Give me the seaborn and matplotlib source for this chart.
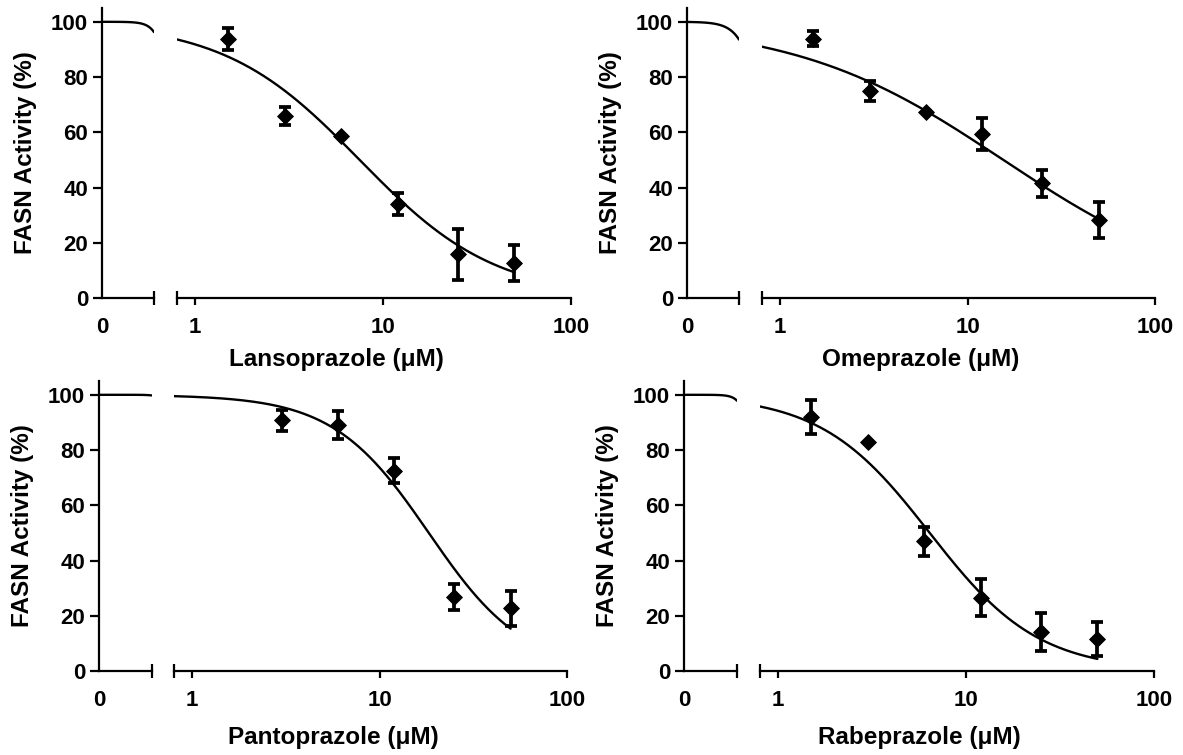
import numpy as np
import pandas as pd
import seaborn as sns
import matplotlib
matplotlib.use("Agg")
import matplotlib.pyplot as plt
from matplotlib.ticker import FixedLocator, FixedFormatter, NullFormatter

# =====================
# Data (mean +/- SEM, % FASN activity)
# =====================
drugs = ["Lansoprazole", "Omeprazole", "Pantoprazole", "Rabeprazole"]

lanso_conc = [1.5, 3, 6, 12, 25, 50]
lanso_mean = [93.8, 66.0, 58.5, 34.0, 15.8, 12.8]
lanso_sem = [4.0, 3.3, 1.0, 3.9, 9.3, 6.5]

omep_conc = [1.5, 3, 6, 12, 25, 50]
omep_mean = [93.8, 75.1, 67.3, 59.5, 41.5, 28.1]
omep_sem = [2.7, 3.6, 1.0, 5.8, 4.8, 6.5]

panto_conc = [3, 6, 12, 25, 50]
panto_mean = [90.7, 89.0, 72.5, 26.8, 22.7]
panto_sem = [3.7, 5.0, 4.6, 4.7, 6.4]

rabe_conc = [1.5, 3, 6, 12, 25, 50]
rabe_mean = [92.0, 82.8, 47.0, 26.5, 14.1, 11.5]
rabe_sem = [6.2, 1.0, 5.3, 6.7, 6.8, 6.1]

# fitted inhibition curves (top 100, bottom 0): IC50 (uM) and Hill slope
fit_ic50 = [7.5, 15.5, 18.3, 6.4]
fit_hill = [1.2, 0.78, 1.7, 1.5]

concs = [lanso_conc, omep_conc, panto_conc, rabe_conc]
means = [lanso_mean, omep_mean, panto_mean, rabe_mean]
sems = [lanso_sem, omep_sem, panto_sem, rabe_sem]

# =====================
# Layout (pixels): y-axis x, left segment end, right segment start, x=100 position, y=0 line
# =====================
W, H = 1183, 755
AX_H = 290
panel_px = [
    (102, 154, 177, 571, 298),
    (687, 739, 762, 1155, 298),
    (99, 151.5, 174, 567, 671),
    (684, 737, 760, 1154, 671),
]
xlabel_gap = [50, 50, 55, 55]


def response(x, ic50, hill):
    return 100.0 / (1.0 + (x / ic50) ** hill)


sns.set_theme(style="ticks")
plt.rcParams["font.family"] = ["Liberation Sans", "DejaVu Sans"]
plt.rcParams["font.weight"] = "bold"
plt.rcParams["axes.labelweight"] = "bold"

fig = plt.figure(figsize=(W / 100, H / 100), dpi=100)

for i, drug in enumerate(drugs):
    yax, lend, rstart, rend, ybase = panel_px[i]
    bottom = (H - ybase) / H
    ax_l = fig.add_axes([yax / W, bottom, (lend - yax) / W, AX_H / H])
    ax_r = fig.add_axes([rstart / W, bottom, (rend - rstart) / W, AX_H / H])

    # curves
    x_left = np.logspace(-3, np.log10(0.5), 120)
    x_right = np.logspace(np.log10(0.8), np.log10(50), 300)
    left_df = pd.DataFrame({"x": x_left, "y": response(x_left, fit_ic50[i], fit_hill[i])})
    right_df = pd.DataFrame({"x": x_right, "y": response(x_right, fit_ic50[i], fit_hill[i])})
    sns.lineplot(data=left_df, x="x", y="y", ax=ax_l, color="black", lw=1.7, estimator=None)
    sns.lineplot(data=right_df, x="x", y="y", ax=ax_r, color="black", lw=1.7, estimator=None)

    # points + error bars (bars hidden when shorter than the symbol, as in Prism)
    c = np.array(concs[i])
    m = np.array(means[i])
    s = np.array(sems[i])
    show = s > 1.5
    ax_r.errorbar(c[show], m[show], yerr=s[show], fmt="none", ecolor="black",
                  elinewidth=2.7, capsize=4.5, capthick=2.7, zorder=3)
    sns.scatterplot(x=c, y=m, ax=ax_r, marker="D", s=65, color="black",
                    edgecolor="black", zorder=4, legend=False)

    for ax in (ax_l, ax_r):
        ax.set_xscale("log")
        ax.set_ylim(0, 105)
        ax.spines["top"].set_visible(False)
        ax.spines["right"].set_visible(False)
        for sp in ax.spines.values():
            sp.set_linewidth(1.6)
            sp.set_color("black")
        ax.set_facecolor("white")

    # left segment (control, labelled 0)
    ax_l.set_xlim(1e-3, 0.5)
    ax_l.xaxis.set_major_locator(FixedLocator([0.5]))
    ax_l.xaxis.set_major_formatter(NullFormatter())
    ax_l.xaxis.set_minor_locator(FixedLocator([1e-3]))
    ax_l.xaxis.set_minor_formatter(FixedFormatter(["0"]))
    ax_l.tick_params(axis="x", which="major", direction="inout", length=9.5, width=1.6, color="black")
    ax_l.tick_params(axis="x", which="minor", length=0, pad=13.5, labelsize=16, labelcolor="black")
    ax_l.set_yticks(range(0, 101, 20))
    ax_l.set_yticklabels([str(v) for v in range(0, 101, 20)])
    ax_l.tick_params(axis="y", direction="out", length=6.5, width=1.6, pad=3.5,
                     labelsize=16, color="black", labelcolor="black")
    ax_l.set_xlabel("")
    ax_l.set_ylabel("FASN Activity (%)", fontsize=17.5, color="black")
    ax_l.yaxis.set_label_coords(-65 / (lend - yax), 0.5)

    # right segment (log concentration)
    ax_r.spines["left"].set_visible(False)
    ax_r.set_xlim(0.8, 100)
    ax_r.xaxis.set_major_locator(FixedLocator([1, 10, 100]))
    ax_r.xaxis.set_major_formatter(FixedFormatter(["1", "10", "100"]))
    ax_r.xaxis.set_minor_locator(FixedLocator([0.8]))
    ax_r.xaxis.set_minor_formatter(NullFormatter())
    ax_r.tick_params(axis="x", which="major", direction="out", length=5, width=1.6, pad=8.5,
                     labelsize=16, color="black", labelcolor="black")
    ax_r.tick_params(axis="x", which="minor", direction="inout", length=9.5, width=1.6, color="black")
    ax_r.tick_params(axis="y", left=False, labelleft=False)
    ax_r.set_ylabel("")
    ax_r.set_xlabel(drug + " (\u03bcM)", fontsize=17.5, color="black")
    cx = ((yax + rend) / 2 - rstart) / (rend - rstart)
    ax_r.xaxis.set_label_coords(cx, -xlabel_gap[i] / AX_H)

fig.savefig("out.png", dpi=100, facecolor="white")
